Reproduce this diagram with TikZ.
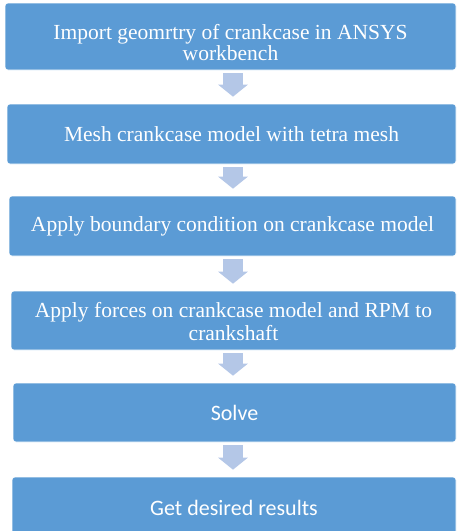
\documentclass[tikz,border=0pt]{standalone}
\usepackage{fontspec}
\setmainfont{Liberation Serif}
\newfontfamily\stepsans{Carlito}
\usetikzlibrary{arrows.meta,calc}
\definecolor{stepblue}{RGB}{91,155,213}
\definecolor{arrowblue}{RGB}{180,199,231}
\begin{document}
\begin{tikzpicture}[x=1pt,y=1pt,
  stepbox/.style={fill=stepblue,draw=white,line width=0.6pt,rounded corners=3pt,
    text=white,align=center,inner sep=0pt,font=\fontsize{21.5}{22}\selectfont},
  sansbox/.style={stepbox,font=\stepsans\fontsize{22}{23}\selectfont},
  flowarrow/.style={draw=arrowblue,line width=20pt,
    -{Triangle[length=12pt,width=29pt,fill=arrowblue]}}]
\useasboundingbox (0,0) rectangle (456,-531);
\node[stepbox,minimum width=451pt,minimum height=67pt] (s1) at (230.5,-36.5)
  {\raisebox{-6pt}[\height][\depth]{\shortstack{Import geomrtry of crankcase in ANSYS\\[-1pt]workbench}}};
\node[stepbox,minimum width=449pt,minimum height=60pt] (s2) at (231.5,-134)
  {Mesh crankcase model with tetra mesh};
\node[stepbox,minimum width=447pt,minimum height=60pt] (s3) at (232.5,-226)
  {Apply boundary condition on crankcase model};
\node[stepbox,minimum width=445pt,minimum height=59pt] (s4) at (233.5,-320.5)
  {\raisebox{-1pt}[\height][\depth]{\shortstack{Apply forces on crankcase model and RPM to\\[0pt]crankshaft}}};
\node[sansbox,minimum width=443pt,minimum height=59pt] (s5) at (234.5,-412.5)
  {Solve};
\node[sansbox,minimum width=444pt,minimum height=62pt] (s6) at (234,-508)
  {Get desired results};
% downward block arrows between the steps, on one vertical axis
\foreach \a/\b in {s1/s2,s2/s3,s3/s4,s4/s5,s5/s6}{
  \draw[flowarrow] ($(233,0 |- \a.south)+(0,-3)$) coordinate (top-\a)
    -- ($(233,0 |- \b.north)+(0,7)$) coordinate (tip-\a);
}
\end{tikzpicture}
\end{document}
